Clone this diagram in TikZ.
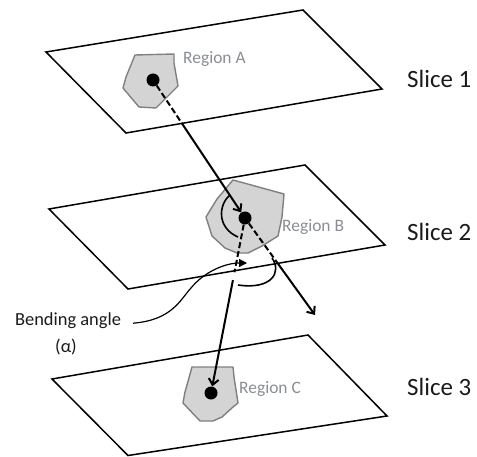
\documentclass[tikz,border=0pt]{standalone}
\usepackage{fontspec}
\setmainfont{Carlito}
\usetikzlibrary{arrows.meta,calc}
\definecolor{regfill}{HTML}{D4D4D4}
\definecolor{regedge}{HTML}{808080}
\definecolor{regtext}{HTML}{8A8E94}
\definecolor{labtext}{HTML}{1A1A1A}
\begin{document}
\begin{tikzpicture}[x=1bp,y=-1bp,
  sliceplane/.style={draw=black,line width=1.5bp,fill=white,line join=miter},
  regionpoly/.style={draw=regedge,fill=regfill,line width=1.4bp,line join=round},
  centerdot/.style={circle,fill=black,inner sep=0pt,minimum size=13bp},
  trackline/.style={line width=2bp},
  hiddenline/.style={trackline,dash pattern=on 6bp off 3bp},
  arrowend/.style={-{Straight Barb[length=6bp,width=10bp]}},
  anglearc/.style={line width=1.6bp},
  bendcurve/.style={line width=1.2bp,-{Triangle[length=8bp,width=8bp]}},
  regiontext/.style={text=regtext,font=\fontsize{17.5}{20}\selectfont,inner sep=0pt,anchor=base west},
  slicetext/.style={text=labtext,font=\fontsize{25}{30}\selectfont,inner sep=0pt,anchor=base west},
  bendtext/.style={text=labtext,font=\fontsize{18.5}{22}\selectfont,inner sep=0pt,anchor=base}
]
\useasboundingbox (0,0) rectangle (477,457);

% slices
\draw[sliceplane] (46,52) -- (303,10) -- (382,89) -- (126,133) -- cycle;
\draw[sliceplane] (49,209) -- (305,165) -- (385,245) -- (128,289) -- cycle;
\draw[sliceplane] (52,379) -- (308,335) -- (387,416) -- (128,455.5) -- cycle;

% regions
\draw[regionpoly] (135,55) -- (174,54) -- (174,63) -- (178,86) -- (170,94) -- (163,101) -- (156,108) -- (139,107) -- (123,88) -- (126,77) -- cycle;
\draw[regionpoly] (233,180) -- (284,194) -- (282,217) -- (278,236) -- (262,246) -- (248,253) -- (237,253) -- (225,248) -- (212,236) -- (206,217) -- (217,199) -- cycle;
\draw[regionpoly] (192,367) -- (233,367) -- (234,377) -- (238,403) -- (233,407) -- (222,417) -- (213,421) -- (200,421) -- (183,403) -- (185,392) -- cycle;

% centres
\node[centerdot] (a) at (153,80) {};
\node[centerdot] (b) at (245,218) {};
\node[centerdot] (c) at (211,393) {};
\coordinate (ext) at (315,315);

% tracks
\draw[hiddenline] (a) -- ($(a)!0.31!(b)$);
\draw[trackline,arrowend] ($(a)!0.31!(b)$) -- (b);
\draw[hiddenline] (b) -- ($(b)!0.46!(ext)$);
\draw[trackline,arrowend] ($(b)!0.46!(ext)$) -- (ext);
\draw[hiddenline] (b) -- ($(b)!0.31!(c)$);
\draw[trackline,arrowend] ($(b)!0.355!(c)$) -- (c);

% angle arcs
\draw[anglearc] (230,195) .. controls (218,205) and (217,228) .. (238,237);
\draw[anglearc] (272,258) .. controls (282,272) and (272,290) .. (238,285);

% labels
\node[regiontext] (la) at (183,64) {Region A};
\node[regiontext] (lb) at (282,232) {Region B};
\node[regiontext] (lc) at (239,393) {Region C};
\node[slicetext] (s1) at (407,88) {Slice 1};
\node[slicetext] (s2) at (407,240) {Slice 2};
\node[slicetext] (s3) at (407,395) {Slice 3};
\node[bendtext] (lbl) at (68,325) {Bending angle};
\node[bendtext] (lblalpha) at (66,352) {(α)};
\coordinate (angtip) at (247,263);
\draw[bendcurve] ([shift={(12,3)}]lbl.east) .. controls (172,320) and (180,300) .. (191,288) .. controls (204,272) and (225,263) .. (angtip);
\end{tikzpicture}
\end{document}
